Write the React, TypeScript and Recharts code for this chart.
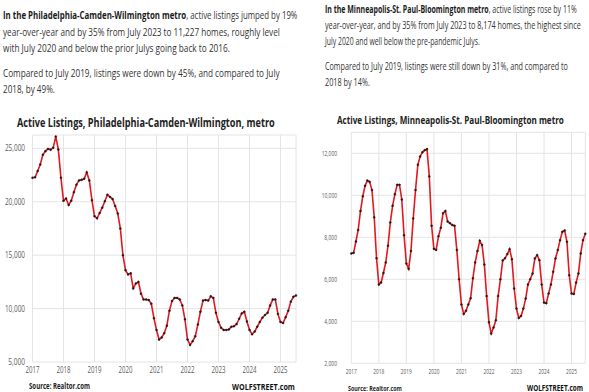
import { useLayoutEffect, useRef, useState } from "react";
import { LineChart, Line, XAxis, YAxis, CartesianGrid } from "recharts";

// monthly active listings, Jan 2017 .. Jul 2025
const phillyListings = [
  22240, 22290, 22880, 23490, 24400, 24740, 24950, 24880, 25050, 26100, 24900, 22250,
  20100, 20300, 19700, 20100, 20900, 21600, 22000, 22050, 22150, 22750, 22000, 20150,
  18650, 18450, 18950, 19450, 20050, 20650, 20450, 20250, 19600, 18900, 17500, 15000,
  13600, 13200, 13300, 11900, 12350, 12500, 11400, 10850, 10850, 10800, 10450, 9100,
  8000, 7100, 7300, 7700, 8400, 9800, 10700, 11000, 11000, 10850, 10300, 9000,
  7100, 6600, 6950, 7400, 8500, 9700, 10750, 10800, 10750, 11150, 11000, 9600,
  8750, 8200, 8000, 8000, 8050, 8300, 8350, 8550, 9050, 9550, 9700, 8800,
  8000, 7600, 7850, 8300, 8750, 9150, 9400, 9600, 10300, 10850, 10850, 9500,
  8750, 8650, 9200, 9800, 10650, 11100, 11227,
];

const minneapolisListings = [
  7230, 7260, 7800, 8350, 9250, 9950, 10450, 10700, 10640, 10250, 8950, 7000,
  5750, 5850, 6300, 6800, 7600, 8700, 9500, 10050, 10500, 10500, 9800, 8100,
  6750, 6500, 7350, 8900, 10250, 11450, 11850, 12050, 12150, 12200, 10900, 8550,
  7450, 7400, 8050, 8450, 9150, 9250, 8750, 8670, 8580, 8550, 7400, 6000,
  4800, 4350, 4500, 4800, 5100, 6050, 6800, 7350, 7830, 7630, 6700, 5200,
  3950, 3420, 3700, 4050, 5200, 6000, 6900, 7000, 7200, 7435, 6960, 5560,
  4605, 4160, 4255, 4605, 5080, 5750, 6005, 6275, 6990, 7150, 6910, 5750,
  4890, 4860, 5320, 5750, 6355, 6990, 7390, 7865, 8260, 8325, 7785, 6195,
  5320, 5305, 5845, 6275, 7230, 7865, 8174,
];

const years = ["2017", "2018", "2019", "2020", "2021", "2022", "2023", "2024", "2025"];
const yearTicks = years.map((_, k) => k * 12);

const phillyTicks = [5000, 10000, 15000, 20000, 25000];
const minneapolisTicks = [2000, 4000, 6000, 8000, 10000, 12000];

const phillyData = phillyListings.map((v, i) => ({ i, v }));
const minneapolisData = minneapolisListings.map((v, i) => ({ i, v }));

const RED = "#e3191f";
const GRID = "#e4e4e4";
const LABEL = "#5a5a5a";
const FONT = "'Open Sans', sans-serif";

const fmt = (n: number) => n.toLocaleString("en-US");

// the source picture is squeezed sideways, so each text is measured and scaled to its width
const FitText = ({ x, y, w, size, weight = 400, fill = "#333", anchor = "start", children }: any) => {
  const ref = useRef<SVGTextElement>(null);
  const [sx, setSx] = useState(1);
  useLayoutEffect(() => {
    const len = ref.current ? ref.current.getComputedTextLength() : 0;
    if (len > 0) setSx(w / len);
  }, [w, children]);
  return (
    <g transform={`translate(${x},${y}) scale(${sx},1)`}>
      <text
        ref={ref}
        x={0}
        y={0}
        fontSize={size}
        fontWeight={weight}
        fill={fill}
        textAnchor={anchor}
        fontFamily={FONT}
      >
        {children}
      </text>
    </g>
  );
};

const yTick = (right: number, perChar: number, size: number) => (props: any) => {
  const s = fmt(props.payload.value);
  return (
    <FitText x={right} y={props.y + 3} w={s.length * perChar} size={size} fill={LABEL} anchor="end">
      {s}
    </FitText>
  );
};

const xTick = (baseline: number, w: number, size: number) => (props: any) => {
  const s = years[props.payload.value / 12];
  return (
    <FitText x={props.x} y={baseline} w={w} size={size} fill={LABEL} anchor="middle">
      {s}
    </FitText>
  );
};

const MetroChart = ({ data, width, top, plotLeft, plotRight, domain, ticks, yRight, yChar, ySize, xBase, xW, xSize }: any) => (
  <LineChart
    width={width}
    height={392}
    data={data}
    margin={{ top, right: width - plotRight, bottom: 0, left: 0 }}
  >
    <CartesianGrid stroke={GRID} strokeWidth={1} />
    <XAxis
      dataKey="i"
      type="number"
      domain={[0, data.length - 1]}
      ticks={yearTicks}
      height={392 - xBase}
      axisLine={false}
      tickLine={false}
      interval={0}
      tick={xTick(xBase + 10.5, xW, xSize)}
    />
    <YAxis
      type="number"
      domain={domain}
      ticks={ticks}
      width={plotLeft}
      axisLine={false}
      tickLine={false}
      interval={0}
      tick={yTick(yRight, yChar, ySize)}
    />
    <Line
      dataKey="v"
      type="linear"
      stroke={RED}
      strokeWidth={1.6}
      dot={{ r: 1, fill: "#1a1a1a", stroke: "#1a1a1a", strokeWidth: 0.4 }}
      isAnimationActive={false}
    />
  </LineChart>
);

export default function App() {
  return (
    <div style={{ position: "absolute", left: 0, top: 0, width: 589, height: 392, background: "#fff", overflow: "hidden" }}>
      <div style={{ position: "absolute", left: 0, top: 0 }}>
        <MetroChart
          data={phillyData}
          width={300}
          top={135}
          plotLeft={32.5}
          plotRight={296}
          domain={[5000, 26250]}
          ticks={phillyTicks}
          yRight={25}
          yChar={3.35}
          ySize={8.5}
          xBase={362}
          xW={14}
          xSize={8.5}
        />
      </div>
      <div style={{ position: "absolute", left: 300, top: 0 }}>
        <MetroChart
          data={minneapolisData}
          width={289}
          top={132.3}
          plotLeft={51.3}
          plotRight={285.3}
          domain={[2000, 13000]}
          ticks={minneapolisTicks}
          yRight={37}
          yChar={2.55}
          ySize={7.5}
          xBase={363.3}
          xW={11}
          xSize={7.5}
        />
      </div>
      <svg width={589} height={392} style={{ position: "absolute", left: 0, top: 0, pointerEvents: "none" }}>
        {/* left article text */}
        <FitText x={3} y={19} w={295} size={11}>
          <tspan fontWeight={700} fill="#1a1a1a">In the Philadelphia-Camden-Wilmington metro</tspan>, active listings jumped by 19%
        </FitText>
        <FitText x={3} y={35.5} w={277} size={11}>year-over-year and by 35% from July 2023 to 11,227 homes, roughly level</FitText>
        <FitText x={3} y={52} w={227} size={11}>with July 2020 and below the prior Julys going back to 2016.</FitText>
        <FitText x={3} y={77} w={277} size={11}>Compared to July 2019, listings were down by 45%, and compared to July</FitText>
        <FitText x={3} y={93} w={52} size={11}>2018, by 49%.</FitText>

        {/* right article text */}
        <FitText x={325} y={13} w={252} size={10.5}>
          <tspan fontWeight={700} fill="#1a1a1a">In the Minneapolis-St. Paul-Bloomington metro</tspan>, active listings rose by 11%
        </FitText>
        <FitText x={325} y={28.5} w={256} size={10.5}>year-over-year, and by 35% from July 2023 to 8,174 homes, the highest since</FitText>
        <FitText x={325} y={44.5} w={155} size={10.5}>July 2020 and well below the pre-pandemic Julys.</FitText>
        <FitText x={325} y={69.5} w={243} size={10.5}>Compared to July 2019, listings were still down by 31%, and compared to</FitText>
        <FitText x={325} y={85.5} w={45} size={10.5}>2018 by 14%.</FitText>

        {/* chart titles */}
        <FitText x={17} y={127} w={258} size={11.5} weight={700} fill="#222">
          Active Listings, Philadelphia-Camden-Wilmington, metro
        </FitText>
        <FitText x={337} y={124} w={227} size={10.5} weight={700} fill="#222">
          Active Listings, Minneapolis-St. Paul-Bloomington metro
        </FitText>

        {/* footers */}
        <FitText x={29} y={389} w={61} size={8} weight={700} fill="#222">Source: Realtor.com</FitText>
        <FitText x={232} y={390} w={63} size={9.5} weight={700} fill="#111">WOLFSTREET.com</FitText>
        <FitText x={348} y={391} w={54} size={7.5} weight={700} fill="#222">Source: Realtor.com</FitText>
        <FitText x={527} y={391} w={56} size={9} weight={700} fill="#111">WOLFSTREET.com</FitText>
      </svg>
    </div>
  );
}
